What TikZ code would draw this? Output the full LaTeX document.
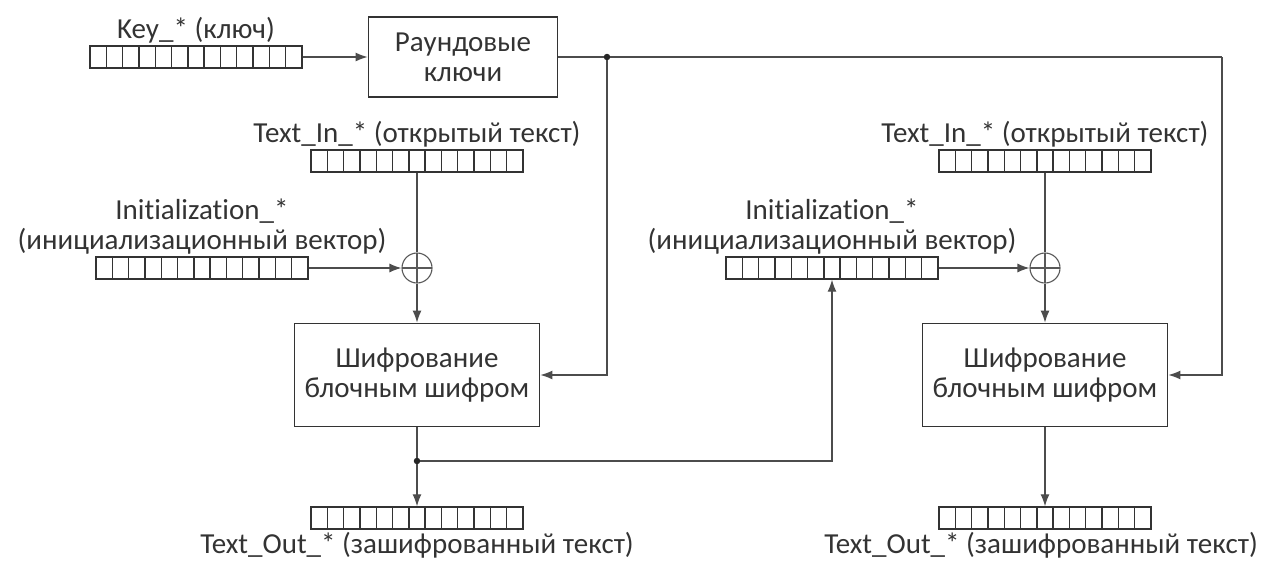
\documentclass[tikz,border=0pt]{standalone}
\usepackage{fontspec}
\setmainfont{Carlito}[Ligatures=NoCommon]
\usetikzlibrary{arrows.meta,positioning,calc}

\begin{document}
\begin{tikzpicture}[
  x=1pt, y=-1pt,
  font=\fontsize{29}{30}\selectfont,
  text=black!80,
  box/.style={draw=black!80, line width=1.8pt, align=center, inner sep=0pt,
              minimum width=245pt, minimum height=103pt},
  reg/.style={draw=black!80, line width=1.4pt, inner sep=0pt,
              minimum width=212pt, minimum height=22pt,
              path picture={\foreach \k in {1,...,12}
                \draw[black!80, line width=1.4pt]
                  ($(path picture bounding box.south west)!\k/13!(path picture bounding box.south east)$) --
                  ($(path picture bounding box.north west)!\k/13!(path picture bounding box.north east)$);}},
  lbl/.style={align=center, inner sep=1pt},
  xorop/.style={circle, draw=black!65, line width=1.1pt, inner sep=0pt, minimum size=30pt,
              path picture={\draw[black!65, line width=1.1pt]
                (path picture bounding box.north) -- (path picture bounding box.south)
                (path picture bounding box.west) -- (path picture bounding box.east);}},
  dot/.style={circle, fill=black!85, inner sep=0pt, minimum size=6.5pt},
  ln/.style={draw=black!70, line width=1.2pt},
  arr/.style={ln, -{Latex[length=12pt, width=9pt]}}
]
\useasboundingbox (0,0) rectangle (1263,560);

\node[reg] (key) at (196,57) {};
\node[lbl, above=1pt of key] (keylbl) {Key\_* (ключ)};
\node[box, minimum width=189pt, minimum height=80pt] (rk) at (463,57) {Раундовые\\ключи};
\node[dot] (j1) at (607,57) {};
\coordinate (rkr) at (1222,57);

\node[reg] (in1) at (417,161) {};
\node[lbl, above=1pt of in1] (in1lbl) {Text\_In\_* (открытый текст)};
\node[xorop] (x1) at (417,268) {};
\node[reg] (iv1) at (202,268) {};
\node[lbl, above=1pt of iv1] (iv1lbl) {Initialization\_*\\(инициализационный вектор)};
\node[box] (enc1) at (417,375) {Шифрование\\блочным шифром};
\node[dot] (j2) at (417,461) {};
\node[reg] (out1) at (417,518) {};
\node[lbl, below=1pt of out1] (out1lbl) {Text\_Out\_* (зашифрованный текст)};

\node[reg] (in2) at (1045,161) {};
\node[lbl, above=1pt of in2] (in2lbl) {Text\_In\_* (открытый текст)};
\node[xorop] (x2) at (1045,268) {};
\node[reg] (iv2) at (832,268) {};
\node[lbl, above=1pt of iv2] (iv2lbl) {Initialization\_*\\(инициализационный вектор)};
\node[box] (enc2) at (1045,375) {Шифрование\\блочным шифром};
\node[reg] (out2) at (1045,518) {};
\node[lbl, below=1pt of out2, xshift=-4pt] (out2lbl) {Text\_Out\_* (зашифрованный текст)};

\draw[arr] (key) -- (rk);
\draw[ln] (rk) -- (j1) -- (rkr);
\draw[arr] (j1) |- (enc1);
\draw[arr] (rkr) |- (enc2);
\draw[ln] (in1) -- (x1);
\draw[arr] (iv1) -- (x1);
\draw[arr] (x1) -- (enc1);
\draw[ln] (enc1) -- (j2);
\draw[arr] (j2) -- (out1);
\draw[arr] (j2) -| (iv2);
\draw[ln] (in2) -- (x2);
\draw[arr] (iv2) -- (x2);
\draw[arr] (x2) -- (enc2);
\draw[arr] (enc2) -- (out2);
\end{tikzpicture}
\end{document}
